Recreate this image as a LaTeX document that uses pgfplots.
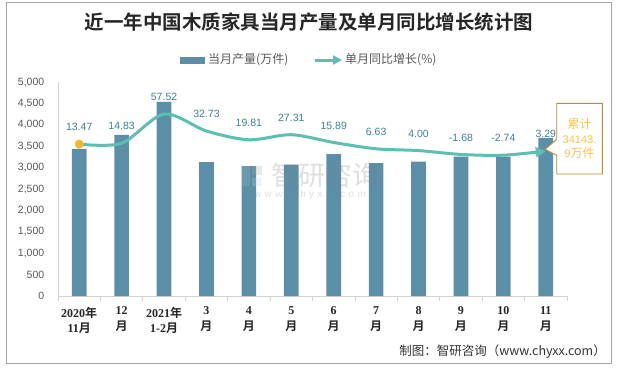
\documentclass[border=0pt]{standalone}
\usepackage{pgfplots}
\pgfplotsset{compat=1.18}
\usetikzlibrary{arrows.meta}
\usepackage{fontspec}
\setmainfont{Liberation Sans}
\newfontfamily\cjk[BoldFont={Noto Sans CJK SC Bold}]{Noto Sans CJK SC}
\newfontfamily\ser{Liberation Serif}
\definecolor{barc}{RGB}{91,143,168}
\definecolor{linec}{RGB}{92,191,178}
\definecolor{lblc}{RGB}{64,128,148}
\definecolor{dotc}{RGB}{243,183,40}
\definecolor{boxc}{RGB}{184,140,40}
\definecolor{boxt}{RGB}{248,195,80}
\definecolor{framec}{RGB}{166,166,166}
\definecolor{axc}{RGB}{210,210,210}
\definecolor{tickc}{RGB}{89,89,89}
\newcommand\N[1]{{\ser\bfseries #1}}
\newcommand\C[1]{{\cjk\bfseries #1}}
\pgfplotstableread{
x y
0 3435
1 3762
2 4533
3 3131
4 3037
5 3068
6 3318
7 3107
8 3138
9 3255
10 3255
11 3692
}\bars
\pgfplotstableread{
x y label
0 13.47 13.47
1 14.83 14.83
2 57.52 57.52
3 32.73 32.73
4 19.81 19.81
5 27.31 27.31
6 15.89 15.89
7 6.63 6.63
8 4.00 4.00
9 -1.68 -1.68
10 -2.74 -2.74
11 3.29 3.29
}\growth
\begin{document}
\begin{tikzpicture}
\fill[white] (0,0) rectangle (618pt,-368pt);
\draw[framec, line width=1pt] (6.5pt,-2.5pt) rectangle (611.5pt,-363pt);
% title
\node[font=\cjk\bfseries\fontsize{19.5}{22}\selectfont, text=black!85] at (309pt,-22pt) {近一年中国木质家具当月产量及单月同比增长统计图};
% legend
\fill[barc] (180pt,-56.5pt) rectangle (205pt,-63.5pt);
\node[anchor=west, font=\cjk\fontsize{12}{14}\selectfont, text=tickc, inner sep=0pt] at (208pt,-60pt) {当月产量(万件)};
\draw[linec, line width=3pt, -{Triangle[length=9pt,width=9pt]}] (315pt,-60pt) -- (342pt,-60pt);
\node[anchor=west, font=\cjk\fontsize{12}{14}\selectfont, text=tickc, inner sep=0pt] at (345pt,-60pt) {单月同比增长(\%)};
\begin{axis}[
  at={(58pt,-296pt)}, anchor=south west,
  width=509pt, height=214pt, scale only axis,
  xmin=-0.5, xmax=11.5, ymin=0, ymax=5000,
  axis x line*=bottom, axis y line*=left,
  axis line style={draw=axc, line width=0.8pt},
  xtick={0,...,11},
  minor xtick={-0.5,0.5,...,11.5},
  major x tick style={draw=none},
  minor x tick style={draw=axc, line width=0.8pt},
  minor tick length=5pt, tick align=outside,
  ytick={0,500,...,5000},
  y tick style={draw=none},
  yticklabel style={font=\fontsize{10.5}{12}\selectfont, text=tickc, xshift=-6pt},
  /pgf/number format/.cd, 1000 sep={,}, assume math mode=true, /pgfplots/.cd,
  xticklabels={{\N{2020}\C{年}\\\N{11}\C{月}},{\N{12}\\\C{月}},{\N{2021}\C{年}\\\N{1-2}\C{月}},{\N{3}\\\C{月}},{\N{4}\\\C{月}},{\N{5}\\\C{月}},{\N{6}\\\C{月}},{\N{7}\\\C{月}},{\N{8}\\\C{月}},{\N{9}\\\C{月}},{\N{10}\\\C{月}},{\N{11}\\\C{月}}},
  xticklabel style={align=center, font=\fontsize{12}{15.6}\selectfont, text=black!85, yshift=-3pt},
]
\addplot[ybar, bar width=14.7pt, fill=barc, draw=none] table[x=x, y=y] {\bars};
\end{axis}
\begin{axis}[
  at={(58pt,-296pt)}, anchor=south west,
  width=509pt, height=214pt, scale only axis,
  xmin=-0.5, xmax=11.5, ymin=-209.3, ymax=104.6,
  hide axis, clip=false,
]
\addplot[linec, line width=3pt, smooth, -{Triangle[length=10pt,width=10pt]},
  nodes near coords, point meta=explicit symbolic,
  every node near coord/.append style={font=\fontsize{10.5}{12}\selectfont, text=lblc, anchor=center, yshift=17pt}]
  table[x=x, y=y, meta=label] {\growth};
\addplot[only marks, mark=*, mark size=4.2pt, mark options={fill=dotc, draw=dotc}] coordinates {(0,13.47)};
\end{axis}
% watermark
\begin{scope}[opacity=0.25]
\fill[barc!60] (241pt,-166pt) rectangle (250pt,-186pt);
\fill[gray!70] (252pt,-166pt) rectangle (262pt,-175pt);
\fill[barc!40] (252pt,-178pt) rectangle (262pt,-186pt);
\node[font=\cjk\fontsize{27}{30}\selectfont, text=gray, inner sep=0pt] at (325pt,-175pt) {智研咨询};
\node[font=\fontsize{10}{12}\selectfont, text=gray, inner sep=0pt] at (310pt,-195pt) {w\,\,w\,\,w\,\,.\,\,c\,\,h\,\,y\,\,x\,\,x\,\,.\,\,c\,\,o\,\,m};
\end{scope}
% callout
\filldraw[fill=white, draw=boxc, line width=0.9pt] (556.7pt,-103.3pt) -- (602.3pt,-103.3pt) -- (602.3pt,-174pt) -- (556.7pt,-174pt) -- (556.7pt,-155.3pt) -- (545pt,-149.3pt) -- (556.7pt,-139.3pt) -- cycle;
\node[align=center, font=\cjk\fontsize{12}{14.5}\selectfont, text=boxt, inner sep=0pt] at (579.5pt,-138.6pt) {累计\\{\rmfamily\fontsize{11}{14.5}\selectfont 34143.}\\{\rmfamily\fontsize{11}{14.5}\selectfont 9}万件};
% footer
\node[anchor=east, font=\cjk\fontsize{12.5}{14}\selectfont, text=black!80, inner sep=0pt] at (606pt,-352pt) {制图：智研咨询（www.chyxx.com）};
\end{tikzpicture}
\end{document}
